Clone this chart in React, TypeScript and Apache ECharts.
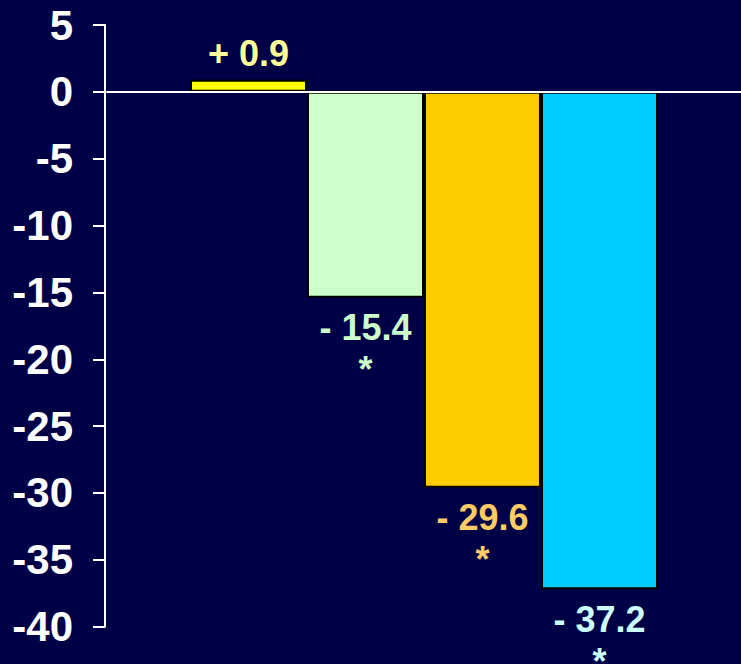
import React, { useEffect, useRef } from "react";
import * as echarts from "echarts";

const groups = ["Group A", "Group B", "Group C", "Group D"];
const values = [0.9, -15.4, -29.6, -37.2];
const significant = [false, true, true, true];
const barColors = ["#FFFF00", "#CCFFCC", "#FFCC00", "#00CCFF"];
const labelColors = ["#FFFF99", "#CCFFCC", "#FFCC66", "#CCFFFF"];
const yTicks = [5, 0, -5, -10, -15, -20, -25, -30, -35, -40];

const FONT = "'Liberation Sans', Arial, Helvetica, sans-serif";

export default function App() {
  const ref = useRef<HTMLDivElement>(null);
  useEffect(() => {
    if (!ref.current) return;
    const chart = echarts.init(ref.current, undefined, { renderer: "svg" });
    const labelText = (v: number, sig: boolean) =>
      (v >= 0 ? "+ " : "- ") + Math.abs(v).toFixed(1) + (sig ? "\n*" : "");
    chart.setOption({
      animation: false,
      backgroundColor: "#000046",
      grid: { left: 107, right: 0, top: 25, bottom: 37.3, containLabel: false },
      xAxis: {
        type: "category",
        data: [""],
        z: 5,
        axisLine: { show: true, onZero: true, lineStyle: { color: "#FFFFFF", width: 2 } },
        axisTick: { show: false },
        axisLabel: { show: false },
        splitLine: { show: false },
      },
      yAxis: {
        type: "value",
        offset: 2,
        min: yTicks[yTicks.length - 1],
        max: yTicks[0],
        interval: 5,
        axisLine: { show: true, lineStyle: { color: "#FFFFFF", width: 2 } },
        axisTick: { show: true, length: 12, lineStyle: { color: "#FFFFFF", width: 2 } },
        axisLabel: {
          color: "#FFFFFF",
          fontSize: 42,
          fontWeight: "bold",
          fontFamily: FONT,
          margin: 32,
        },
        splitLine: { show: false },
      },
      series: groups.map((name, i) => ({
        name,
        type: "bar",
        data: [values[i]],
        barWidth: 117,
        barGap: "0%",
        itemStyle: { color: barColors[i], borderColor: "#000000", borderWidth: 2 },
        label: {
          show: true,
          position: values[i] >= 0 ? "top" : "bottom",
          distance: values[i] >= 0 ? 5 : 9,
          formatter: labelText(values[i], significant[i]),
          color: labelColors[i],
          fontSize: 36,
          fontWeight: "bold",
          fontFamily: FONT,
          lineHeight: 42,
          align: "center",
        },
      })),
    });
    return () => chart.dispose();
  }, []);
  return (
    <div
      ref={ref}
      style={{ position: "fixed", left: 0, top: 0, width: 741, height: 664 }}
    />
  );
}
